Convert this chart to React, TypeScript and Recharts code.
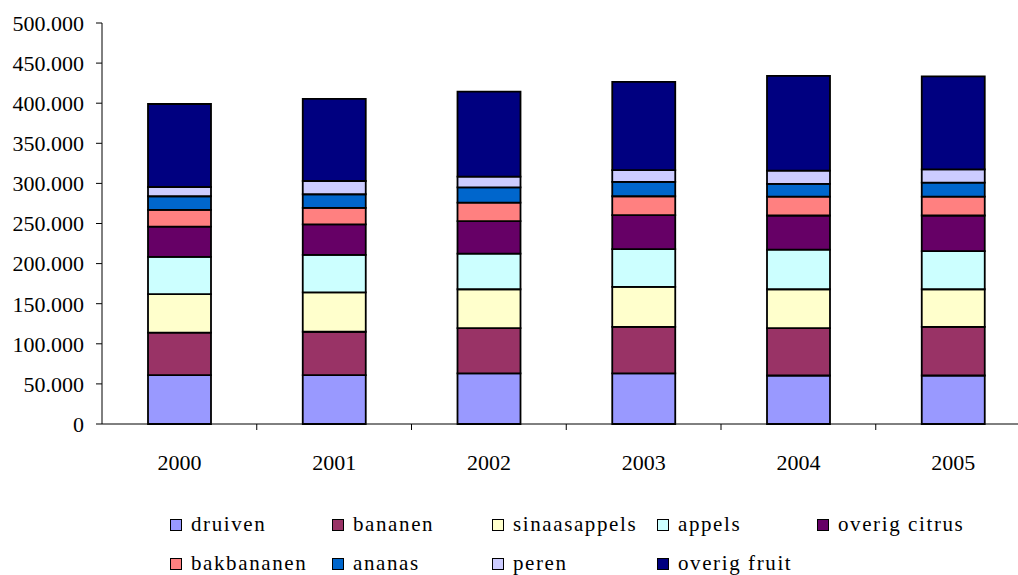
import React from 'react';
import { BarChart, Bar, XAxis, YAxis, Legend } from 'recharts';

const years = ['2000', '2001', '2002', '2003', '2004', '2005'];
const druiven = [61000, 61000, 63000, 63000, 60500, 60500];
const bananen = [53000, 54000, 56500, 58000, 59000, 60500];
const sinaasappels = [48000, 49000, 48500, 50000, 48500, 47000];
const appels = [46500, 47000, 44500, 47000, 49500, 47500];
const overigCitrus = [37500, 38000, 40500, 42500, 42500, 44500];
const bakbananen = [21000, 20500, 23000, 23500, 23500, 23500];
const ananas = [17000, 17000, 19000, 18000, 16000, 17500];
const peren = [11500, 16500, 13500, 14500, 16500, 16500];
const overigFruit = [103500, 102500, 106000, 110000, 118000, 116000];
const yTicks = [0, 50000, 100000, 150000, 200000, 250000, 300000, 350000, 400000, 450000, 500000];

const series = [
  { key: 'druiven', label: 'druiven', values: druiven, color: '#9999FF' },
  { key: 'bananen', label: 'bananen', values: bananen, color: '#993366' },
  { key: 'sinaasappels', label: 'sinaasappels', values: sinaasappels, color: '#FFFFCC' },
  { key: 'appels', label: 'appels', values: appels, color: '#CCFFFF' },
  { key: 'overigCitrus', label: 'overig citrus', values: overigCitrus, color: '#660066' },
  { key: 'bakbananen', label: 'bakbananen', values: bakbananen, color: '#FF8080' },
  { key: 'ananas', label: 'ananas', values: ananas, color: '#0066CC' },
  { key: 'peren', label: 'peren', values: peren, color: '#CCCCFF' },
  { key: 'overigFruit', label: 'overig fruit', values: overigFruit, color: '#000080' },
];

const data = years.map((y, i) => {
  const row: Record<string, any> = { year: y };
  series.forEach((s) => { row[s.key] = s.values[i]; });
  return row;
});

const FONT = 'Liberation Serif';
const CHART_W = 1040;
const CHART_H = 575;
const MARGIN = { top: 23, right: 9.5, left: 12, bottom: 0 };
const Y_W = 90;
const X_H = 151;
const PLOT_W = CHART_W - MARGIN.left - MARGIN.right - Y_W;
const BAND = PLOT_W / years.length;

const fmt = (v: number) => v.toLocaleString('de-DE');

const XTick = (props: any) => {
  const { x, y, payload } = props;
  const tx = x + BAND / 2;
  return (
    <g>
      <line x1={tx} x2={tx} y1={y - 8} y2={y - 2} stroke="#000" strokeWidth={1} />
      <text x={x} y={y + 38} textAnchor="middle" fontFamily={FONT} fontSize={22} fill="#000">
        {payload.value}
      </text>
    </g>
  );
};

const colWidths = [162, 160, 165, 160, 200];

const LegendContent = () => (
  <div style={{ display: 'grid', gridTemplateColumns: colWidths.map((w) => w + 'px').join(' ') }}>
    {series.map((s) => (
      <div key={s.key} style={{ display: 'flex', alignItems: 'center', height: 39, fontFamily: FONT, fontSize: 21, letterSpacing: 1.6, color: '#000', whiteSpace: 'nowrap' }}>
        <span style={{ display: 'inline-block', width: 10, height: 10, background: s.color, border: '1.5px solid #000', marginRight: 9 }} />
        <span>{s.label}</span>
      </div>
    ))}
  </div>
);

export default function App() {
  return (
    <div style={{ position: 'absolute', left: 0, top: 0, width: 1018, height: 575, overflow: 'hidden', background: '#fff', fontFamily: FONT }}>
      <BarChart width={CHART_W} height={CHART_H} data={data} margin={MARGIN} barSize={63}>
        <YAxis
          width={Y_W}
          domain={[0, 500000]}
          ticks={yTicks}
          interval={0}
          tickFormatter={fmt}
          tickSize={6}
          tickMargin={12}
          axisLine={{ stroke: '#000' }}
          tickLine={{ stroke: '#000' }}
          tick={{ fontFamily: FONT, fontSize: 22, fill: '#000' }}
        />
        <XAxis
          dataKey="year"
          height={X_H}
          tickSize={6}
          tickMargin={2}
          tickLine={false}
          axisLine={{ stroke: '#000' }}
          tick={<XTick />}
          interval={0}
        />
        <Legend
          layout="horizontal"
          verticalAlign="middle"
          align="center"
          content={<LegendContent />}
          wrapperStyle={{ left: 170, top: 505, width: 860 }}
        />
        {series.map((s) => (
          <Bar
            key={s.key}
            dataKey={s.key}
            name={s.label}
            stackId="a"
            fill={s.color}
            stroke="#000"
            strokeWidth={1.8}
            isAnimationActive={false}
          />
        ))}
      </BarChart>
    </div>
  );
}
